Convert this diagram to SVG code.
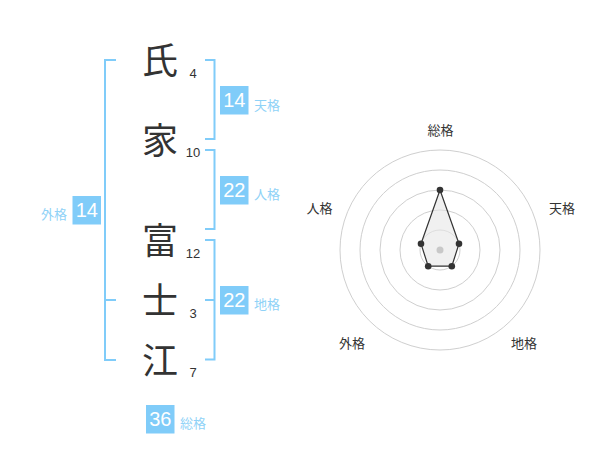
<svg xmlns="http://www.w3.org/2000/svg" width="600" height="470" viewBox="0 0 600 470">
<style>
text{font-family:"Liberation Sans","Noto Sans CJK JP",sans-serif}
.kanji{font-family:"Noto Sans CJK JP",sans-serif;font-size:36px;fill:#333;text-anchor:middle}
.num{font-size:13px;fill:#333;text-anchor:middle}
.box{fill:#80ccf9}
.bnum{font-size:20px;fill:#fff;text-anchor:middle}
.blab{font-family:"Noto Sans CJK JP",sans-serif;font-size:13px;fill:#8fd2f7}
.br{fill:none;stroke:#80ccf9;stroke-width:2}
.ring{fill:none;stroke:#cfcfcf;stroke-width:1}
.rlab{font-family:"Noto Sans CJK JP",sans-serif;font-size:13px;fill:#333;text-anchor:middle}
.dot{fill:#333}
</style>
<rect width="600" height="470" fill="#fff"/>
<g id="connectors">
<path class="br" d="M116,60H105V360H116M105,300H116"/>
<path class="br" d="M205,60H214.5V139H205"/>
<path class="br" d="M205,150H214.5V229H205"/>
<path class="br" d="M205,240H214.5V359.5H205M205,300H214.5"/>
</g>
<g id="char-1"><text class="kanji" x="160" y="74">氏</text><text class="num" x="193" y="77.5">4</text></g>
<g id="char-2"><text class="kanji" x="160" y="154">家</text><text class="num" x="193" y="157">10</text></g>
<g id="char-3"><text class="kanji" x="160" y="254">富</text><text class="num" x="193" y="257.5">12</text></g>
<g id="char-4"><text class="kanji" x="160" y="314">士</text><text class="num" x="193" y="317.5">3</text></g>
<g id="char-5"><text class="kanji" x="160" y="374">江</text><text class="num" x="193" y="377">7</text></g>
<g id="tenkaku"><rect class="box" x="220" y="86" width="28.5" height="28.5"/><text class="bnum" x="234.3" y="107.3">14</text><text class="blab" x="254" y="109.5">天格</text></g>
<g id="jinkaku"><rect class="box" x="220" y="176" width="28.5" height="28.5"/><text class="bnum" x="234.3" y="197.3">22</text><text class="blab" x="254" y="199">人格</text></g>
<g id="chikaku"><rect class="box" x="220" y="286" width="28.5" height="28.5"/><text class="bnum" x="234.3" y="307.3">22</text><text class="blab" x="254" y="309">地格</text></g>
<g id="gaikaku"><rect class="box" x="72.5" y="196" width="28.5" height="28.5"/><text class="bnum" x="86.8" y="217.3">14</text><text class="blab" x="67" y="219" text-anchor="end">外格</text></g>
<g id="soukaku"><rect class="box" x="146" y="405" width="28.5" height="28.5"/><text class="bnum" x="160.3" y="426.3">36</text><text class="blab" x="180" y="428">総格</text></g>
<g id="radar">
<circle class="ring" cx="440" cy="250" r="20"/>
<circle class="ring" cx="440" cy="250" r="40"/>
<circle class="ring" cx="440" cy="250" r="60"/>
<circle class="ring" cx="440" cy="250" r="80"/>
<circle class="ring" cx="440" cy="250" r="100"/>
<polygon points="440,190 459,243.8 451.8,266.2 428.2,266.2 421,243.8" fill="#e6e6e6" fill-opacity="0.6" stroke="#333" stroke-width="1.2" stroke-linejoin="round"/>
<circle cx="440" cy="250" r="3.5" fill="#c8c8c8"/>
<circle class="dot" cx="440" cy="190" r="3.3"/>
<circle class="dot" cx="459" cy="243.8" r="3.3"/>
<circle class="dot" cx="451.8" cy="266.2" r="3.3"/>
<circle class="dot" cx="428.2" cy="266.2" r="3.3"/>
<circle class="dot" cx="421" cy="243.8" r="3.3"/>
<text class="rlab" x="440.5" y="135">総格</text>
<text class="rlab" x="562" y="213">天格</text>
<text class="rlab" x="524" y="347.5">地格</text>
<text class="rlab" x="352" y="347.5">外格</text>
<text class="rlab" x="319.5" y="213">人格</text>
</g>
</svg>
